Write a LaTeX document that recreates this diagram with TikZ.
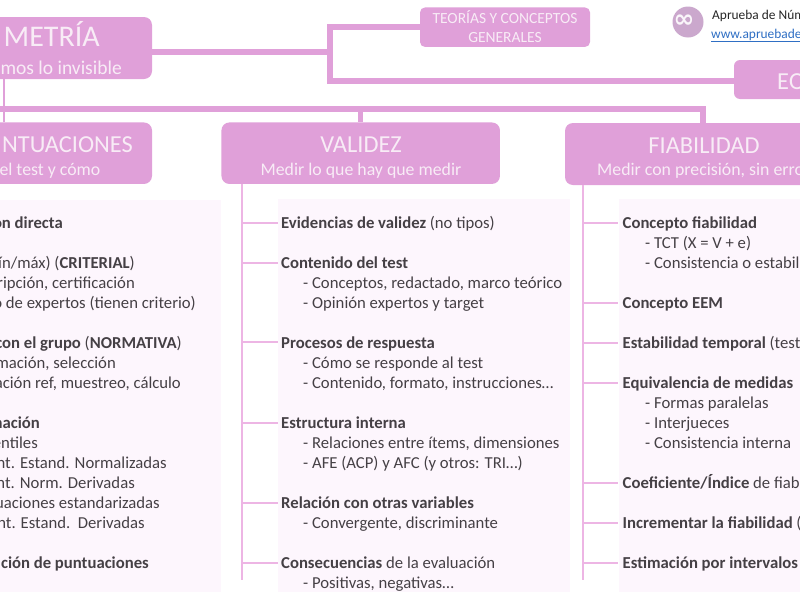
\documentclass[tikz,border=0pt]{standalone}
\usepackage{fontspec}
\setmainfont{Carlito}
\newfontfamily\symb{DejaVu Sans}
\definecolor{boxpink}{HTML}{E0A0D9}
\definecolor{linepink}{HTML}{EDB5E4}
\definecolor{panel}{HTML}{FDF6FD}
\definecolor{ink}{HTML}{454045}
\definecolor{head}{HTML}{F8ECF6}
\definecolor{logo}{HTML}{CBA8CD}
\definecolor{lnk}{HTML}{2F6FC4}
\tikzset{
  x=1pt,y=-1pt,
  hbox/.style={draw=none,fill=boxpink,rounded corners=8pt,inner sep=0pt,outer sep=0pt},
  sbox/.style={hbox,rounded corners=5pt},
  thick link/.style={draw=boxpink,line width=6pt},
  thin link/.style={draw=boxpink,line width=2pt},
  spine/.style={draw=linepink,line width=1.5pt},
  panelbox/.style={fill=panel,draw=none},
  htitle/.style={text=head,font=\fontsize{24.4}{25}\selectfont,anchor=base,inner sep=0pt},
  hsub/.style={text=head,font=\fontsize{17.8}{18}\selectfont,anchor=base,inner sep=0pt},
  item/.style={text=ink,font=\fontsize{16.7}{17}\selectfont,anchor=base west,inner sep=0pt},
  ritem/.style={item,anchor=base east},
}
\begin{document}
\begin{tikzpicture}
\useasboundingbox (0,0) rectangle (800,600);
\clip (0,0) rectangle (800,600);
\fill[white] (0,0) rectangle (800,600);
% panels
\fill[panelbox] (-10,200) rectangle (221,592);
\fill[panelbox] (278,199) rectangle (570,592);
\fill[panelbox] (619,199) rectangle (810,592);
% boxes
\node[hbox,minimum width=252pt,minimum height=62pt] (psic) at (26,48) {};
\node[sbox,minimum width=170pt,minimum height=39.5pt] (teor) at (505,27.2) {};
\node[sbox,rounded corners=6pt,minimum width=120pt,minimum height=39pt] (eqbox) at (794,79.5) {};
\node[hbox,minimum width=252pt,minimum height=61.5pt] (punt) at (26,153.2) {};
\node[hbox,minimum width=278.5pt,minimum height=61.5pt] (vali) at (360.7,153.2) {};
\node[hbox,minimum width=300pt,minimum height=62pt] (fiab) at (715,154) {};
% connector junctions
\coordinate (jtop) at (329.5,52);
\coordinate (jup) at (329.5,27);
\coordinate (jdown) at (329.5,81);
\coordinate (jbar) at (4,109);
\coordinate (jleft) at (0,109);
\coordinate (jval) at (360.5,109);
\coordinate (jfia) at (703,109);
% top connectors
\draw[thick link] (psic.east |- jtop) -- (jtop);
\draw[thick link,line join=miter] (teor.west |- jup) -- (jup) -- (jdown) -- (eqbox.west |- jdown);
\draw[thin link] (jbar |- psic.south) -- (jbar |- punt.north);
\draw[thick link] (jleft) -- (jfia) -- (jfia |- fiab.north);
\draw[draw=boxpink,line width=5.5pt] (jval) -- (jval |- vali.north);
% spines validez
\coordinate (vs) at (242,580);
\draw[spine] (vs |- vali.south) -- (vs);
\foreach \n/\yy in {a/223,b/263,c/342,d/423,e/503,f/563}{
  \coordinate (vb\n) at (278,\yy);
  \draw[spine,line width=1.2pt] (vs |- vb\n) -- (vb\n);
}
% spines fiabilidad
\coordinate (fs) at (583,580);
\draw[spine] (fs |- fiab.south) -- (fs);
\foreach \n/\yy in {a/223,b/303,c/343,d/383,e/483,f/523,g/563}{
  \coordinate (fb\n) at (618,\yy);
  \draw[spine,line width=1.2pt] (fs |- fb\n) -- (fb\n);
}
% header text
\node[htitle,anchor=base east,font=\fontsize{30}{30}\selectfont] (t1) at (100,46.5) {METRÍA};
\node[hsub,anchor=base east,font=\fontsize{19.5}{20}\selectfont] (t2) at (122,74) {mos lo invisible};
\node[text=head,font=\fontsize{15.5}{16}\selectfont,anchor=base,inner sep=0pt] (t3) at (505,23) {TEORÍAS Y CONCEPTOS};
\node[text=head,font=\fontsize{15.5}{16}\selectfont,anchor=base,inner sep=0pt] (t4) at (505,42) {GENERALES};
\node[htitle,anchor=base west] (t5) at (777,89) {EQ};
\node[htitle,anchor=base east] (t6) at (133,152) {NTUACIONES};
\node[hsub,anchor=base east] (t7) at (100.5,175) {el test y cómo};
\node[htitle] (t8) at (361,152) {VALIDEZ};
\node[hsub] (t9) at (361,175) {Medir lo que hay que medir};
\node[htitle] (t10) at (704,153) {FIABILIDAD};
\node[hsub,anchor=base west] (t11) at (597,175) {Medir con precisión, sin erro};
% left column
\node[ritem] (l1) at (63,228) {\textbf{on directa}};
\node[ritem] (l2) at (135,268) {ín/máx) (\textbf{CRITERIAL})};
\node[ritem] (l3) at (135,288) {ripción, certificación};
\node[ritem] (l4) at (196,308) {o de expertos (tienen criterio)};
\node[ritem] (l5) at (182,348) {\textbf{con el grupo} (\textbf{NORMATIVA})};
\node[ritem] (l6) at (116,368) {mación, selección};
\node[ritem] (l7) at (181,388) {ación ref, muestreo, cálculo};
\node[ritem] (l8) at (40,428) {\textbf{nación}};
\node[ritem] (l9) at (38,448) {entiles};
\node[ritem] (l10) at (167,468) {nt. Estand. Normalizadas};
\node[ritem] (l11) at (135,488) {nt. Norm. Derivadas};
\node[ritem] (l12) at (160,508) {uaciones estandarizadas};
\node[ritem] (l13) at (145,528) {nt. Estand.\ \ Derivadas};
\node[ritem] (l14) at (149,568) {\textbf{ción de puntuaciones}};
% middle column
\node[item] (m1) at (281,228) {\textbf{Evidencias de validez} (no tipos)};
\node[item] (m2) at (281,268) {\textbf{Contenido del test}};
\node[item] (m3) at (303,288) {- Conceptos, redactado, marco teórico};
\node[item] (m4) at (303,308) {- Opinión expertos y target};
\node[item] (m5) at (281,348) {\textbf{Procesos de respuesta}};
\node[item] (m6) at (303,368) {- Cómo se responde al test};
\node[item] (m7) at (303,388) {- Contenido, formato, instrucciones…};
\node[item] (m8) at (281,428) {\textbf{Estructura interna}};
\node[item] (m9) at (303,448) {- Relaciones entre ítems, dimensiones};
\node[item] (m10) at (303,468) {- AFE (ACP) y AFC (y otros: TRI…)};
\node[item] (m11) at (281,508) {\textbf{Relación con otras variables}};
\node[item] (m12) at (303,528) {- Convergente, discriminante};
\node[item] (m13) at (281,568) {\textbf{Consecuencias} de la evaluación};
\node[item] (m14) at (303,588) {- Positivas, negativas…};
% right column
\node[item] (r1) at (622.5,228) {\textbf{Concepto fiabilidad}};
\node[item] (r2) at (645,248) {- TCT (X = V + e)};
\node[item] (r3) at (645,268) {- Consistencia o estabil};
\node[item] (r4) at (622.5,308) {\textbf{Concepto EEM}};
\node[item] (r5) at (622.5,348) {\textbf{Estabilidad temporal} (test};
\node[item] (r6) at (622.5,388) {\textbf{Equivalencia de medidas}};
\node[item] (r7) at (645,408) {- Formas paralelas};
\node[item] (r8) at (645,428) {- Interjueces};
\node[item] (r9) at (645,448) {- Consistencia interna};
\node[item] (r10) at (622.5,488) {\textbf{Coeficiente/Índice} de fiab};
\node[item] (r11) at (622.5,528) {\textbf{Incrementar la fiabilidad} (};
\node[item] (r12) at (622.5,568) {\textbf{Estimación por intervalos}};
% logo
\node[circle,fill=logo,minimum size=31pt,inner sep=0pt] (lg) at (688,22) {};
\node[text=white!90!logo,font=\symb\bfseries\fontsize{25}{25}\selectfont,inner sep=0pt] (lginf) at (684,21) {∞};
\node[text=black!85,font=\fontsize{13.4}{14}\selectfont,anchor=base west,inner sep=0pt] (ap1) at (712,19) {Aprueba de Núm};
\node[text=lnk,font=\fontsize{13.4}{14}\selectfont,anchor=base west,inner sep=0pt] (ap2) at (711,38) {\underline{www.apruebade}};
\end{tikzpicture}
\end{document}
